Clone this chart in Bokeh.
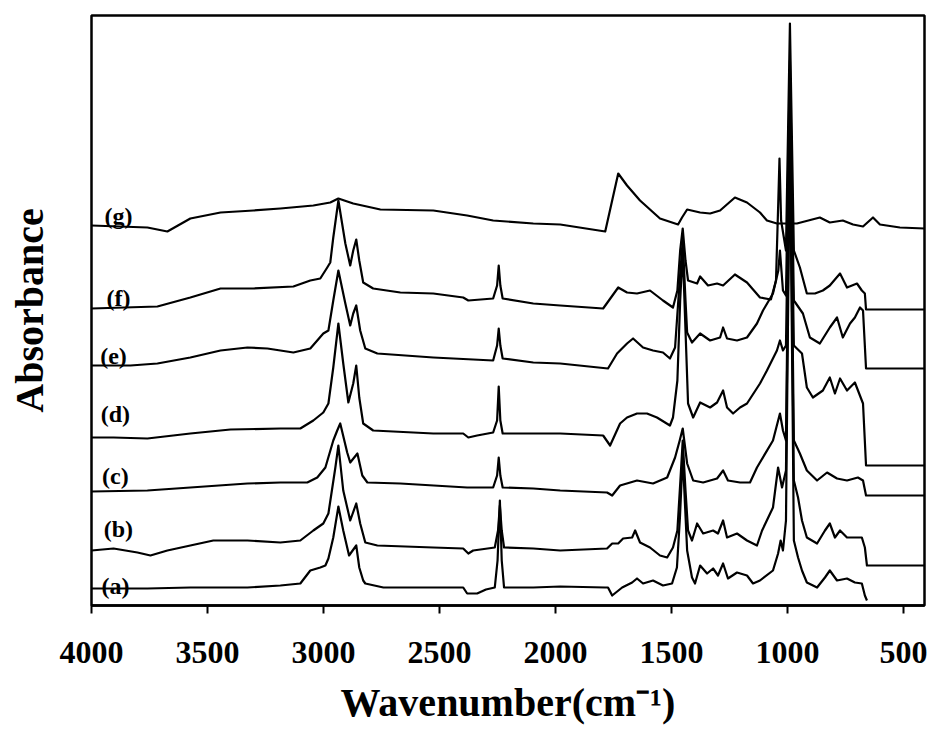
from bokeh.core.properties import value
from bokeh.embed import file_html
from bokeh.models import ColumnDataSource, FixedTicker, Range1d
from bokeh.plotting import figure
from bokeh.resources import INLINE

# FTIR spectra (a)-(g), stacked with vertical offsets; wavenumber in cm-1
a_wn = [4000, 3759, 3574, 3328, 3186, 3100, 3057, 3014, 2992, 2979, 2958, 2936, 2915, 2890, 2859,
        2846, 2829, 2820, 2742, 2398, 2381, 2338, 2300, 2262, 2250, 2240, 2232, 2222, 2096, 1980,
        1786, 1774, 1756, 1713, 1670, 1649, 1623, 1580, 1537, 1498, 1477, 1464, 1452, 1433, 1412,
        1399, 1377, 1347, 1321, 1300, 1278, 1257, 1218, 1175, 1149, 1119, 1063, 1041, 1030, 1020,
        1007, 990, 973, 955, 938, 917, 873, 839, 818, 787, 744, 710, 680, 667, 658]
a_ab = [0.17, 0.17, 0.18, 0.18, 0.20, 0.22, 0.35, 0.38, 0.40, 0.47, 0.68, 0.99, 0.75, 0.50, 0.60,
        0.38, 0.25, 0.22, 0.18, 0.18, 0.12, 0.12, 0.16, 0.18, 0.45, 1.05, 0.45, 0.18, 0.18, 0.19,
        0.18, 0.18, 0.10, 0.18, 0.23, 0.27, 0.22, 0.25, 0.20, 0.22, 0.38, 0.88, 1.50, 0.55, 0.28,
        0.22, 0.40, 0.32, 0.37, 0.30, 0.42, 0.27, 0.33, 0.30, 0.22, 0.25, 0.35, 0.52, 0.65, 0.55,
        0.85, 4.75, 0.65, 0.48, 0.35, 0.23, 0.18, 0.28, 0.35, 0.25, 0.27, 0.23, 0.22, 0.10, 0.05]

b_wn = [4000, 3905, 3802, 3746, 3673, 3574, 3475, 3328, 3186, 3100, 3044, 3001, 2979, 2949, 2936,
        2915, 2885, 2859, 2842, 2820, 2768, 2527, 2398, 2376, 2355, 2262, 2248, 2240, 2232, 2222,
        2096, 1980, 1778, 1756, 1730, 1709, 1670, 1657, 1636, 1593, 1550, 1519, 1494, 1475, 1462,
        1452, 1440, 1429, 1412, 1390, 1364, 1321, 1300, 1278, 1261, 1218, 1175, 1132, 1110, 1063,
        1041, 1024, 1007, 990, 973, 955, 938, 917, 873, 839, 818, 796, 774, 744, 710, 680, 667,
        658, 410]
b_ab = [0.55, 0.57, 0.53, 0.50, 0.55, 0.60, 0.65, 0.65, 0.63, 0.65, 0.75, 0.82, 0.92, 1.38, 1.60,
        1.15, 0.85, 1.02, 0.82, 0.63, 0.60, 0.58, 0.57, 0.52, 0.55, 0.58, 0.75, 1.00, 0.75, 0.58,
        0.57, 0.55, 0.57, 0.62, 0.62, 0.67, 0.68, 0.75, 0.63, 0.58, 0.50, 0.48, 0.58, 0.75, 1.25,
        1.65, 1.15, 0.75, 0.65, 0.82, 0.72, 0.75, 0.72, 0.85, 0.68, 0.72, 0.65, 0.60, 0.75, 0.98,
        1.38, 1.18, 1.35, 4.95, 1.25, 1.08, 0.85, 0.68, 0.62, 0.75, 0.82, 0.68, 0.75, 0.68, 0.68,
        0.68, 0.58, 0.40, 0.40]

c_wn = [4000, 3759, 3574, 3328, 3186, 3070, 3027, 2992, 2958, 2941, 2928, 2898, 2885, 2854, 2833,
        2811, 2669, 2381, 2269, 2252, 2245, 2238, 2228, 2096, 1980, 1778, 1756, 1722, 1649, 1580,
        1519, 1485, 1465, 1452, 1433, 1407, 1364, 1304, 1278, 1257, 1205, 1162, 1132, 1063, 1033,
        1020, 1007, 990, 973, 947, 917, 873, 830, 787, 744, 697, 675, 662, 410]
c_ab = [1.14, 1.15, 1.18, 1.22, 1.23, 1.23, 1.28, 1.38, 1.65, 1.75, 1.82, 1.53, 1.43, 1.52, 1.30,
        1.23, 1.22, 1.18, 1.18, 1.30, 1.48, 1.30, 1.18, 1.17, 1.15, 1.13, 1.10, 1.20, 1.25, 1.22,
        1.28, 1.48, 1.65, 1.77, 1.42, 1.25, 1.23, 1.27, 1.35, 1.25, 1.23, 1.23, 1.38, 1.65, 1.92,
        1.75, 1.65, 5.05, 1.65, 1.52, 1.35, 1.25, 1.33, 1.27, 1.25, 1.28, 1.25, 1.10, 1.10]

d_wn = [4000, 3905, 3759, 3574, 3401, 3186, 3100, 3044, 3001, 2979, 2958, 2936, 2915, 2893, 2872,
        2859, 2846, 2829, 2786, 2527, 2398, 2376, 2338, 2269, 2252, 2245, 2238, 2228, 2096, 1980,
        1795, 1765, 1722, 1692, 1649, 1606, 1563, 1507, 1494, 1475, 1463, 1452, 1440, 1429, 1407,
        1377, 1334, 1304, 1278, 1261, 1235, 1205, 1175, 1119, 1089, 1046, 1033, 1020, 1007, 990,
        973, 938, 917, 891, 848, 818, 796, 774, 744, 710, 675, 662, 410]
d_ab = [1.68, 1.68, 1.67, 1.72, 1.76, 1.77, 1.77, 1.85, 1.93, 2.02, 2.38, 2.82, 2.42, 2.03, 2.22,
        2.40, 2.08, 1.82, 1.75, 1.72, 1.72, 1.68, 1.70, 1.73, 1.85, 2.19, 1.85, 1.72, 1.72, 1.72,
        1.70, 1.60, 1.82, 1.88, 1.92, 1.92, 1.88, 1.80, 1.88, 2.25, 3.05, 3.55, 2.75, 2.02, 1.88,
        2.03, 1.98, 2.03, 2.15, 1.98, 1.92, 1.98, 2.02, 2.22, 2.35, 2.55, 2.65, 2.55, 2.60, 5.15,
        2.60, 2.52, 2.18, 2.08, 2.15, 2.28, 2.12, 2.27, 2.15, 2.23, 2.02, 1.40, 1.40]

e_wn = [4000, 3832, 3716, 3574, 3444, 3328, 3242, 3130, 3057, 3001, 2979, 2958, 2936, 2906, 2885,
        2872, 2859, 2842, 2820, 2768, 2527, 2269, 2252, 2245, 2238, 2228, 2096, 1980, 1774, 1735,
        1692, 1666, 1623, 1580, 1537, 1507, 1485, 1465, 1452, 1440, 1433, 1412, 1377, 1334, 1291,
        1278, 1261, 1218, 1175, 1132, 1106, 1063, 1040, 1033, 1020, 1007, 990, 973, 934, 904,
        861, 818, 787, 762, 731, 710, 688, 675, 662, 410]
e_ab = [2.40, 2.40, 2.42, 2.48, 2.55, 2.58, 2.57, 2.53, 2.57, 2.72, 2.75, 3.05, 3.35, 3.02, 2.80,
        2.92, 3.00, 2.75, 2.57, 2.52, 2.48, 2.45, 2.60, 2.77, 2.60, 2.47, 2.43, 2.42, 2.37, 2.52,
        2.62, 2.67, 2.58, 2.55, 2.53, 2.47, 2.58, 3.25, 3.65, 3.05, 2.73, 2.63, 2.72, 2.65, 2.68,
        2.78, 2.67, 2.65, 2.68, 2.82, 2.95, 3.12, 3.35, 3.55, 3.15, 3.10, 5.45, 3.05, 2.92, 2.68,
        2.62, 2.78, 2.88, 2.68, 2.82, 2.88, 2.98, 2.95, 2.37, 2.37]

f_wn = [4000, 3716, 3574, 3444, 3302, 3130, 3057, 3014, 2984, 2971, 2958, 2936, 2906, 2885, 2872,
        2859, 2846, 2829, 2786, 2669, 2527, 2398, 2376, 2269, 2252, 2245, 2238, 2228, 2096, 1980,
        1795, 1730, 1692, 1649, 1593, 1537, 1494, 1475, 1463, 1452, 1440, 1429, 1390, 1377, 1343,
        1304, 1278, 1227, 1175, 1119, 1072, 1050, 1040, 1035, 1028, 1007, 990, 973, 947, 917,
        882, 848, 818, 774, 744, 701, 680, 667, 662, 410]
f_ab = [2.97, 2.99, 3.08, 3.17, 3.17, 3.19, 3.25, 3.27, 3.38, 3.43, 3.68, 4.05, 3.62, 3.40, 3.55,
        3.66, 3.45, 3.23, 3.17, 3.13, 3.12, 3.08, 3.05, 3.07, 3.20, 3.40, 3.20, 3.07, 3.02, 3.00,
        2.97, 3.18, 3.13, 3.12, 3.15, 3.05, 2.98, 3.15, 3.55, 3.77, 3.45, 3.25, 3.22, 3.29, 3.20,
        3.22, 3.20, 3.31, 3.23, 3.08, 3.06, 3.25, 4.05, 4.47, 3.85, 3.55, 5.82, 3.55, 3.38, 3.12,
        3.12, 3.15, 3.20, 3.32, 3.18, 3.22, 3.15, 3.12, 2.96, 2.96]

g_wn = [4000, 3759, 3673, 3574, 3444, 3302, 3186, 3044, 2971, 2936, 2872, 2755, 2527, 2381, 2269,
        2096, 1980, 1786, 1730, 1692, 1636, 1550, 1472, 1455, 1433, 1377, 1334, 1291, 1227, 1175,
        1119, 1089, 1046, 960, 861, 818, 762, 718, 675, 632, 602, 516, 410]
g_ab = [3.80, 3.78, 3.74, 3.87, 3.93, 3.95, 3.97, 4.00, 4.03, 4.07, 4.02, 3.96, 3.95, 3.90, 3.85,
        3.82, 3.81, 3.74, 4.32, 4.20, 4.05, 3.87, 3.81, 3.88, 3.96, 3.93, 3.92, 3.95, 4.08, 4.03,
        3.93, 3.85, 3.82, 3.82, 3.88, 3.83, 3.85, 3.81, 3.79, 3.88, 3.81, 3.78, 3.77]

# curve tags and where they sit, next to the left end of each trace
tags = ["(a)", "(b)", "(c)", "(d)", "(e)", "(f)", "(g)"]
tag_wn = [3897, 3884, 3897, 3897, 3905, 3884, 3884]
tag_ab = [0.20, 0.77, 1.30, 1.92, 2.50, 3.08, 3.90]

tick_values = [4000, 3500, 3000, 2500, 2000, 1500, 1000, 500]

SERIF = "Liberation Serif"

p = figure(
    width=933, height=731,
    x_range=Range1d(4000, 410), y_range=Range1d(0, 5.9),
    output_backend="svg", toolbar_location=None,
    min_border_left=91, min_border_right=9, min_border_top=15, min_border_bottom=126,
    background_fill_color="white", border_fill_color="white",
)
p.xgrid.visible = False
p.ygrid.visible = False
p.outline_line_color = "black"
p.outline_line_width = 2.5
p.outline_line_alpha = 1.0

# bottom axis: wavenumber ticks and title
ax = p.xaxis[0]
ax.ticker = FixedTicker(ticks=tick_values)
ax.major_label_overrides = {t: str(t) for t in tick_values}
ax.axis_line_color = "black"
ax.axis_line_width = 2.5
ax.major_tick_line_color = "black"
ax.major_tick_line_width = 2
ax.major_tick_out = 8
ax.major_tick_in = 0
ax.minor_tick_line_color = None
ax.major_label_standoff = 28
ax.major_label_text_font = SERIF
ax.major_label_text_font_style = "bold"
ax.major_label_text_font_size = "32px"
ax.major_label_text_color = "black"
ax.axis_label = "Wavenumber(cm\u207b\u00b9)"
ax.axis_label_standoff = 14
ax.axis_label_text_font = SERIF
ax.axis_label_text_font_style = "bold"
ax.axis_label_text_font_size = "40px"
ax.axis_label_text_color = "black"

# left axis: title only, no ticks
ay = p.yaxis[0]
ay.ticker = FixedTicker(ticks=[])
ay.axis_line_color = None
ay.major_tick_line_color = None
ay.minor_tick_line_color = None
ay.major_tick_out = 0
ay.major_label_standoff = 0
ay.major_label_text_font_size = "0px"
ay.axis_label = "Absorbance"
ay.axis_label_standoff = 40
ay.axis_label_text_font = SERIF
ay.axis_label_text_font_style = "bold"
ay.axis_label_text_font_size = "40px"
ay.axis_label_text_color = "black"

for wn, ab in [(a_wn, a_ab), (b_wn, b_ab), (c_wn, c_ab), (d_wn, d_ab),
               (e_wn, e_ab), (f_wn, f_ab), (g_wn, g_ab)]:
    p.line(wn, ab, line_color="black", line_width=2.2, line_join="round")

tag_src = ColumnDataSource(dict(x=tag_wn, y=tag_ab, text=tags))
p.text(x="x", y="y", text="text", source=tag_src,
       text_font=value(SERIF), text_font_style="bold", text_font_size="24px",
       text_color="black", text_align="center", text_baseline="middle")

open("out.html", "w").write(file_html(p, INLINE))
